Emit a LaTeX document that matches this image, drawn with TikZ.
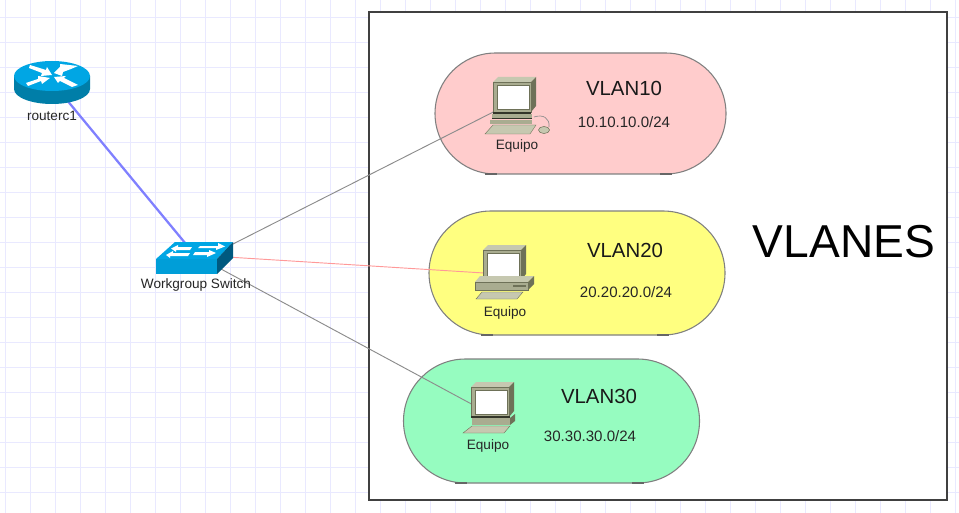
\documentclass[tikz,border=0pt]{standalone}
\usepackage{fontspec}
\setmainfont{Liberation Sans}
\usepackage{tikz}
\usetikzlibrary{positioning,shapes.misc}
\definecolor{gridc}{HTML}{E9E9FF}
\definecolor{rtop}{HTML}{00A6E4}
\definecolor{rside}{HTML}{007EA8}
\definecolor{swside}{HTML}{00597F}
\definecolor{pcfront}{HTML}{A9AC90}
\definecolor{pctop}{HTML}{C6C8B0}
\definecolor{pcside}{HTML}{6E7158}
\definecolor{pcdark}{HTML}{34362A}
\tikzstyle{vlan}=[draw=black!50, rounded rectangle, minimum width=291*0.75pt, minimum height=121*0.75pt, inner sep=0pt, line width=0.8pt]
\tikzstyle{anchorbox}=[inner sep=0pt, minimum size=2pt]
\tikzstyle{small}=[font=\fontsize{10.2}{12}\selectfont, text=black!85, inner sep=0pt]
\tikzstyle{vname}=[font=\fontsize{15.3}{18}\selectfont, text=black!90, inner sep=0pt]
\tikzstyle{vnet}=[font=\fontsize{11.3}{13}\selectfont, text=black!85, inner sep=0pt]
\tikzstyle{lnk}=[draw=black!45, line width=0.7pt]
\tikzset{
  whitearrow/.style={fill=white, draw=none},
  monitor/.pic={
    \fill[pctop] (0,0) -- (5,-5) -- (43,-5) -- (38,0) -- cycle;
    \fill[pcside] (38,0) -- (43,-5) -- (43,24) -- (38,30) -- cycle;
    \fill[pcfront] (0,0) rectangle (38,30);
    \draw[pcside,line width=0.5pt] (0,0) rectangle (38,30);
    \fill[pcside] (4,3) rectangle (37,28);
    \fill[white] (5,4) rectangle (36,27);
  }
}
\begin{document}
\begin{tikzpicture}[x=0.75pt,y=-0.75pt,>=latex]
\useasboundingbox (0,0) rectangle (959,513);
\fill[white] (0,0) rectangle (959,513);
\foreach \gx in {5,30,...,955} \draw[gridc,line width=0.7pt] (\gx,0) -- (\gx,513);
\foreach \gy in {17,42,...,513} \draw[gridc,line width=0.7pt] (0,\gy) -- (959,\gy);

\node[draw=black!75, fill=white, line width=1.1pt, minimum width=578*0.75pt, minimum height=488*0.75pt, inner sep=0pt] (vlanes) at (658,256) {};
\node[font=\fontsize{34.6}{40}\selectfont, inner sep=0pt] (vlanestxt) at (844,242) {VLANES};

\node[vlan, fill=red!20!white] (vlan10) at (580.5,113.5) {};
\node[vlan, fill={rgb,255:red,255;green,255;blue,128}, minimum width=296*0.75pt, minimum height=124*0.75pt] (vlan20) at (577,273) {};
\node[vlan, fill={rgb,255:red,150;green,252;blue,192}, minimum width=296*0.75pt, minimum height=124*0.75pt] (vlan30) at (551.5,421) {};
% dark marks at the foot of the pills
\foreach \ax/\ay in {491/174,666/174,487/335,663/335,461/483,638/483}
  \draw[black!60,line width=1pt] (\ax-6,\ay) -- (\ax+6,\ay);

\node[anchorbox] (router) at (52,82) {};
\node[anchorbox, minimum height=16*0.75pt] (switch) at (195,255) {};
\node[anchorbox] (pc1) at (513,102) {};
\node[anchorbox] (pc2) at (500,274) {};
\node[anchorbox] (pc3) at (490,414) {};

\draw[draw={rgb,255:red,128;green,128;blue,255},line width=1.7pt] (router) -- (switch);
\draw[lnk] (switch.south) -- (pc1);
\draw[lnk,draw=red!40!white] (switch) -- (pc2);
\draw[lnk] (switch) -- (pc3);

% router
\fill[rside] (14,76) -- (14,89) arc[start angle=180,end angle=0,x radius=38,y radius=15] -- (90,76) -- cycle;
\fill[rtop] (52,76) ellipse[x radius=38,y radius=15];
\fill[whitearrow] (30,65) -- (46,70) -- (47,67) -- (52,75) -- (41,76) -- (42,73) -- (29,68) -- cycle;
\fill[whitearrow] (78,66) -- (60,64) -- (60,67) -- (54,73) -- (62,76) -- (63,72) -- (71,69) -- cycle;
\fill[whitearrow] (28,86) -- (41,81) -- (42,84) -- (50,78) -- (38,76) -- (38,79) -- (26,83) -- cycle;
\fill[whitearrow] (78,85) -- (64,78) -- (66,76) -- (54,77) -- (58,83) -- (60,81) -- (72,87) -- cycle;
\node[small, below of = router, node distance = 34*0.75pt] (routerlbl) {routerc1};

% switch
\fill[rtop] (156,259) -- (175,242) -- (233,242) -- (217,259) -- cycle;
\fill[rtop!95!black] (156,259) rectangle (217,274);
\fill[swside] (217,259) -- (233,242) -- (233,258) -- (217,274) -- cycle;
\fill[whitearrow] (200,246) -- (218,246) -- (218,243) -- (225,246.5) -- (216,250) -- (216,248) -- (198,248) -- cycle;
\fill[whitearrow] (192,247) -- (178,247) -- (178,245) -- (171,248.5) -- (176,252) -- (176,250) -- (190,250) -- cycle;
\fill[whitearrow] (195,252) -- (209,252) -- (209,250) -- (216,253) -- (207,257) -- (207,255) -- (193,255) -- cycle;
\fill[whitearrow] (190,253) -- (173,253) -- (173,251) -- (166,255) -- (170,258) -- (170,256) -- (188,256) -- cycle;
\node[small, below of = switch, node distance = 30*0.75pt, xshift=1*0.75pt] (switchlbl) {Workgroup Switch};

% pc with mouse
\pic at (493,82) {monitor};
\fill[pcdark] (493,112) rectangle (531,114);
\fill[pcfront] (492,114) rectangle (532,118);
\fill[pcdark] (492,118) rectangle (532,119);
\fill[pcfront] (490,120) -- (532,120) -- (532,124) -- (490,124) -- cycle;
\fill[pctop,draw=pcside,line width=0.3pt] (485,134) -- (493,125) -- (536,125) -- (530,134) -- cycle;
\draw[black!45,line width=0.5pt] (534,117) .. controls (543,114) and (550,118) .. (549,127);
\fill[pctop,draw=pcside,line width=0.4pt] (544,130) ellipse[x radius=5.5,y radius=3.5];
\node[small, below=36*0.75pt of pc1, xshift=4*0.75pt] (pc1lbl) {Equipo};

% pc on desktop
\pic at (483,250) {monitor};
\fill[pctop] (480,276) -- (534,276) -- (528,282) -- (475,282) -- cycle;
\fill[pcfront] (475,282) rectangle (528,290);
\draw[pcside,line width=0.4pt] (475,282) rectangle (528,290);
\fill[pcside] (528,282) -- (534,276) -- (534,284) -- (528,290) -- cycle;
\fill[pcside] (513,285) rectangle (526,287);
\fill[pctop,draw=pcside,line width=0.3pt] (476,299) -- (482,292) -- (523,292) -- (517,299) -- cycle;
\node[small, below=31*0.75pt of pc2, xshift=5*0.75pt] (pc2lbl) {Equipo};

% pc without mouse
\pic at (471,387) {monitor};
\fill[pcdark] (471,416) rectangle (510,418);
\fill[pcfront] (472,418) rectangle (510,425);
\fill[pcside] (510,418) -- (515,414) -- (515,421) -- (510,425) -- cycle;
\fill[pctop,draw=pcside,line width=0.3pt] (463,433) -- (472,426) -- (510,426) -- (504,433) -- cycle;
\node[small, below=24*0.75pt of pc3, xshift=-2*0.75pt] (pc3lbl) {Equipo};

\node[vname] (n10) at (624,88) {VLAN10};
\node[vnet, below of = n10, node distance = 34*0.75pt] (ip10) {10.10.10.0/24};
\node[vname] (n20) at (625,250) {VLAN20};
\node[vnet, below of = n20, node distance = 42*0.75pt, xshift=1*0.75pt] (ip20) {20.20.20.0/24};
\node[vname] (n30) at (599,396) {VLAN30};
\node[vnet, below of = n30, node distance = 40*0.75pt, xshift=-9*0.75pt] (ip30) {30.30.30.0/24};
\end{tikzpicture}
\end{document}
